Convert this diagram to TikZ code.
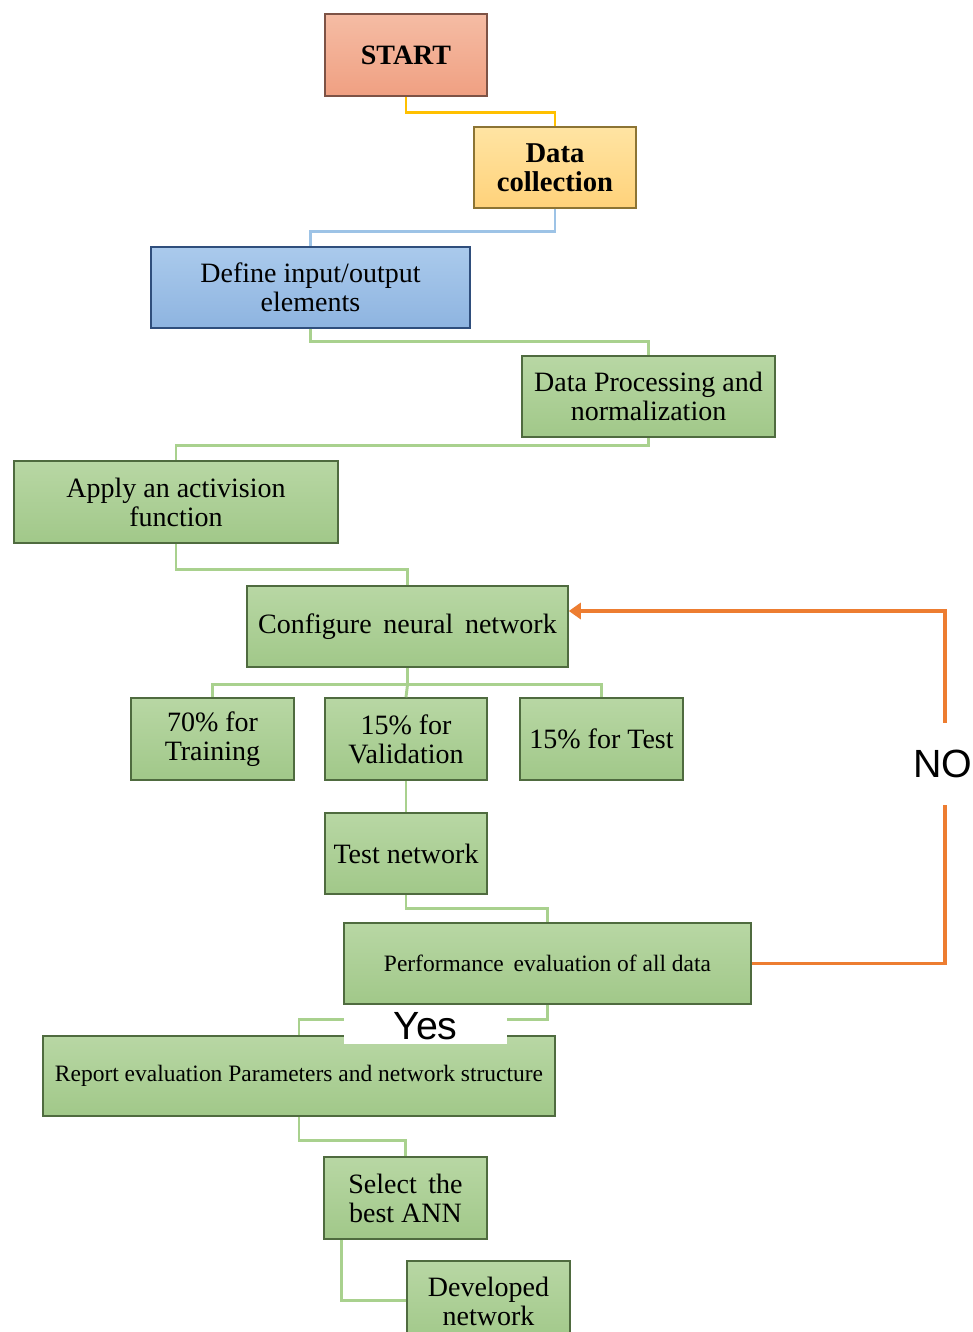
\documentclass[tikz,border=0pt]{standalone}
\usepackage{fontspec}
\setmainfont{Liberation Serif}
\newfontfamily\arialfont{Liberation Sans}
\usetikzlibrary{arrows.meta,calc}
\definecolor{gtop}{HTML}{B8D7A4}
\definecolor{gbot}{HTML}{A1C889}
\definecolor{gbord}{HTML}{4F6B3F}
\definecolor{btop}{HTML}{AACAEC}
\definecolor{bbot}{HTML}{8EB4E0}
\definecolor{bbord}{HTML}{2F4E7C}
\definecolor{ytop}{HTML}{FFE4A3}
\definecolor{ybot}{HTML}{FFD27A}
\definecolor{ybord}{HTML}{8C7434}
\definecolor{stop}{HTML}{F5BCA4}
\definecolor{sbot}{HTML}{F0A082}
\definecolor{sbord}{HTML}{7D5346}
\definecolor{lgreen}{HTML}{A9D18E}
\definecolor{lyellow}{HTML}{FFC000}
\definecolor{lblue}{HTML}{9DC3E6}
\definecolor{lorange}{HTML}{ED7D31}
\tikzset{
  box/.style={rectangle, inner sep=1pt, align=center, line width=1.2pt,
    font=\fontsize{21}{21.75}\selectfont, text=black},
  gbox/.style={box, draw=gbord, top color=gtop, bottom color=gbot},
  bbox/.style={box, draw=bbord, top color=btop, bottom color=bbot},
  ybox/.style={box, draw=ybord, top color=ytop, bottom color=ybot, font=\fontsize{21.5}{21.75}\selectfont\bfseries},
  sbox/.style={box, draw=sbord, top color=stop, bottom color=sbot, font=\fontsize{21}{21.75}\selectfont\bfseries},
  smallfont/.style={font=\fontsize{17.6}{18}\selectfont},
  conn/.style={line width=2.2pt, draw=lgreen},
  lbl/.style={fill=white, inner sep=0pt, font=\arialfont\fontsize{29.5}{29.5}\selectfont}
}
\begin{document}
\begin{tikzpicture}[x=0.75pt,y=-0.75pt]
\useasboundingbox (0,0) rectangle (973,1332);
\clip (0,0) rectangle (973,1332);
\fill[white] (0,0) rectangle (973,1332);

% nodes
\node[sbox, minimum width=121.5pt, minimum height=61.5pt] (start) at (406,55) {START};
\node[ybox, minimum width=121.5pt, minimum height=60.75pt] (dc) at (555,167.5) {Data\\collection};
\node[bbox, minimum width=239.25pt, minimum height=60.75pt] (def) at (310.5,287.5) {Define input/output\\elements};
\node[gbox, minimum width=189.75pt, minimum height=60.75pt] (proc) at (648.5,396.5) {Data Processing and\\normalization};
\node[gbox, minimum width=243pt, minimum height=61.5pt] (act) at (176,502) {Apply an activision\\function};
\node[gbox, minimum width=240.75pt, minimum height=60.75pt] (cfg) at (407.5,626.5) {Configure\, neural\, network};
\node[gbox, minimum width=122.25pt, minimum height=61.5pt] (train) at (212.5,739) {70\% for\\Training};
\node[gbox, minimum width=121.5pt, minimum height=61.5pt] (val) at (406,739) {15\% for\\Validation};
\node[gbox, minimum width=122.25pt, minimum height=61.5pt] (tst) at (601.5,739) {15\% for Test};
\node[gbox, minimum width=121.5pt, minimum height=60.75pt] (tnet) at (406,853.5) {Test network};
\node[gbox, smallfont, minimum width=305.25pt, minimum height=60.75pt] (perf) at (547.5,963.5) {Performance\, evaluation of all data};
\node[gbox, smallfont, minimum width=384pt, minimum height=60pt] (rep) at (299,1076) {Report evaluation Parameters and network structure};
\node[gbox, minimum width=122.25pt, minimum height=61.5pt] (sel) at (405.5,1198) {Select\, the\\best ANN};
\node[gbox, minimum width=122.25pt, minimum height=61.5pt, anchor=north] (dev) at (488.5,1260) {Developed\\network};

% connectors
\draw[conn, draw=lyellow] (start.south) -- ++(0,16) -| (dc.north);
\draw[conn, draw=lblue] (dc.south) -- ++(0,23) -| (def.north);
\draw[conn] (def.south) -- ++(0,13) -| (proc.north);
\draw[conn] (proc.south) -- ++(0,8) -| (act.north);
\draw[conn] (act.south) -- ++(0,26) -| (cfg.north);
\draw[conn] (cfg.south) -- ++(0,17) coordinate (split);
\draw[conn] (split) -| (train.north);
\draw[conn] (split) -- (val.north);
\draw[conn] (split) -| (tst.north);
\draw[conn] (val.south) -- (tnet.north);
\draw[conn] (tnet.south) -- ++(0,14) -| (perf.north);
\draw[conn] (perf.south) -- ++(0,15) -| (rep.north);
\draw[conn] (rep.south) -- ++(0,24) -| (sel.north);
\coordinate (selout) at ($(sel.south west)!0.11!(sel.south east)$);
\draw[conn] (selout) |- ($(dev.west)+(0,-1)$);

% NO loop
\coordinate (loopTop) at (945,611);
\draw[line width=2.9pt, draw=lorange, -{Triangle[length=9pt,width=12pt]}]
  (perf.east) -| (loopTop) -- (cfg.east |- loopTop);
\node[lbl, minimum width=45pt, minimum height=62pt] (no) at (943,764) {NO};

% Yes label
\node[lbl, minimum width=122pt, minimum height=27pt] (yes) at (425.5,1026) {Yes};
\end{tikzpicture}
\end{document}
